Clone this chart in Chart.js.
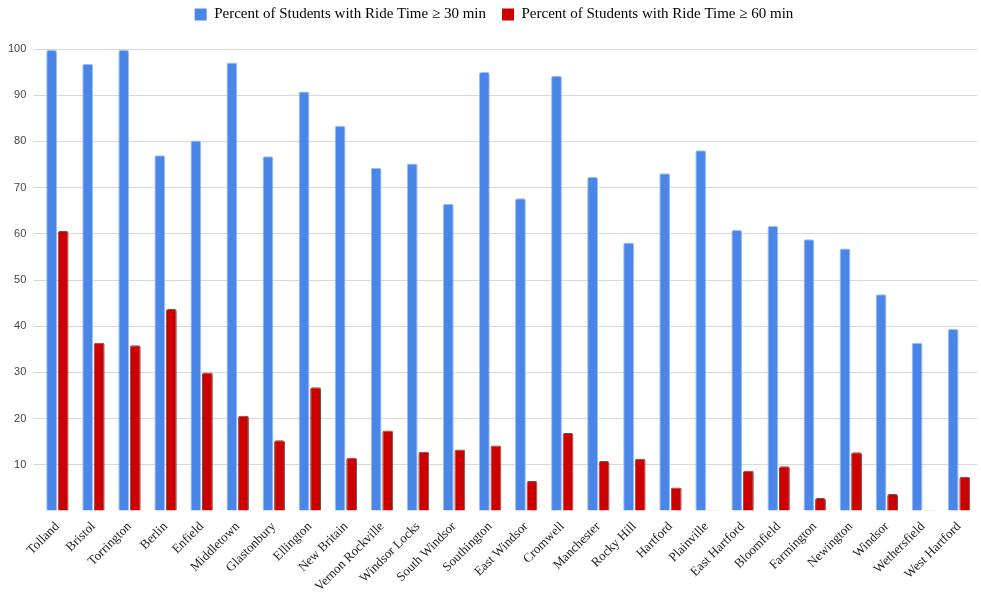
<!DOCTYPE html>
<html>
<head>
<meta charset="utf-8">
<script src="https://cdn.jsdelivr.net/npm/chart.js@4/dist/chart.umd.min.js"></script>
<style>
  html, body { margin: 0; padding: 0; background: #fff; }
  #wrap { width: 981px; height: 592px; position: relative; }
</style>
</head>
<body>
<div id="wrap"><canvas id="c"></canvas></div>
<script>
const categories = ["Tolland","Bristol","Torrington","Berlin","Enfield","Middletown","Glastonbury","Ellington","New Britain","Vernon Rockville","Windsor Locks","South Windsor","Southington","East Windsor","Cromwell","Manchester","Rocky Hill","Hartford","Plainville","East Hartford","Bloomfield","Farmington","Newington","Windsor","Wethersfield","West Hartford"];
const ride30 = [99.8,96.8,99.8,77.0,80.2,97.1,76.8,90.8,83.4,74.3,75.2,66.5,95.0,67.7,94.2,72.3,58.1,73.1,78.1,60.8,61.7,58.8,56.8,46.9,36.4,39.4];
const ride60 = [60.6,36.4,35.9,43.7,30.0,20.6,15.3,26.8,11.5,17.4,12.8,13.3,14.2,6.5,16.9,10.8,11.3,5.1,0,8.7,9.7,2.8,12.7,3.7,0,7.4];
const seriesNames = ["Percent of Students with Ride Time \u2265 30 min","Percent of Students with Ride Time \u2265 60 min"];
const yTicks = [0,10,20,30,40,50,60,70,80,90,100];

const legendMargin = {
  id: 'legendMargin',
  afterInit(chart) {
    const orig = chart.legend.fit;
    chart.legend.fit = function () { orig.call(this); this.height += 17; };
  },
  afterLayout(chart) {
    chart.legend.left += 5;
    chart.legend.right += 5;
  }
};

new Chart(document.getElementById('c'), {
  type: 'bar',
  plugins: [legendMargin],
  data: {
    labels: categories,
    datasets: [
      {
        label: seriesNames[0],
        data: ride30,
        backgroundColor: '#4a86e8',
        borderColor: '#9fbff3',
        borderWidth: {top: 1, left: 1, right: 1, bottom: 0},
        borderRadius: 2,
        borderSkipped: 'start',
        categoryPercentage: 0.64,
        barPercentage: 0.94
      },
      {
        label: seriesNames[1],
        data: ride60,
        backgroundColor: (ctx) => (ctx.raw === 0 ? '#bbbbbb' : '#cc0000'),
        borderColor: (ctx) => (ctx.raw === 0 ? '#bbbbbb' : '#7a4a4a'),
        borderWidth: {top: 1, left: 1, right: 1, bottom: 0},
        borderRadius: 2,
        borderSkipped: 'start',
        minBarLength: 1,
        categoryPercentage: 0.64,
        barPercentage: 0.94
      }
    ]
  },
  options: {
    responsive: true,
    maintainAspectRatio: false,
    animation: false,
    layout: { padding: { left: 1, right: 4, top: -9, bottom: 0 } },
    plugins: {
      legend: {
        position: 'top',
        labels: {
          font: { family: '"Liberation Serif", "Times New Roman", serif', size: 15 },
          color: '#444',
          boxWidth: 12,
          boxHeight: 12,
          padding: 16,
          generateLabels: (chart) => chart.data.datasets.map((ds, i) => ({
            text: ds.label,
            fillStyle: i === 0 ? '#4a86e8' : '#cc0000',
            strokeStyle: i === 0 ? '#4a86e8' : '#cc0000',
            lineWidth: 0,
            hidden: !chart.isDatasetVisible(i),
            datasetIndex: i
          }))
        }
      },
      tooltip: { enabled: false }
    },
    scales: {
      x: {
        grid: { display: false, drawTicks: false },
        border: { display: false },
        afterFit: (s) => { s.height = 81; },
        ticks: {
          minRotation: 45,
          maxRotation: 45,
          autoSkip: false,
          padding: 8,
          color: '#222',
          font: { family: '"Liberation Serif", "Times New Roman", serif', size: 13 }
        }
      },
      y: {
        min: 0,
        max: 100,
        afterBuildTicks: (axis) => { axis.ticks = yTicks.map(v => ({ value: v })); },
        border: { display: false },
        grid: {
          color: (ctx) => (ctx.tick && ctx.tick.value === 0 ? 'rgba(0,0,0,0)' : '#d9d9d9'),
          lineWidth: 1,
          tickLength: 6,
          drawTicks: true
        },
        ticks: {
          padding: 7,
          color: '#444',
          font: { family: '"Liberation Sans", Arial, sans-serif', size: 11 },
          callback: (v) => (v === 0 ? '' : String(v))
        }
      }
    }
  }
});
</script>
</body>
</html>
